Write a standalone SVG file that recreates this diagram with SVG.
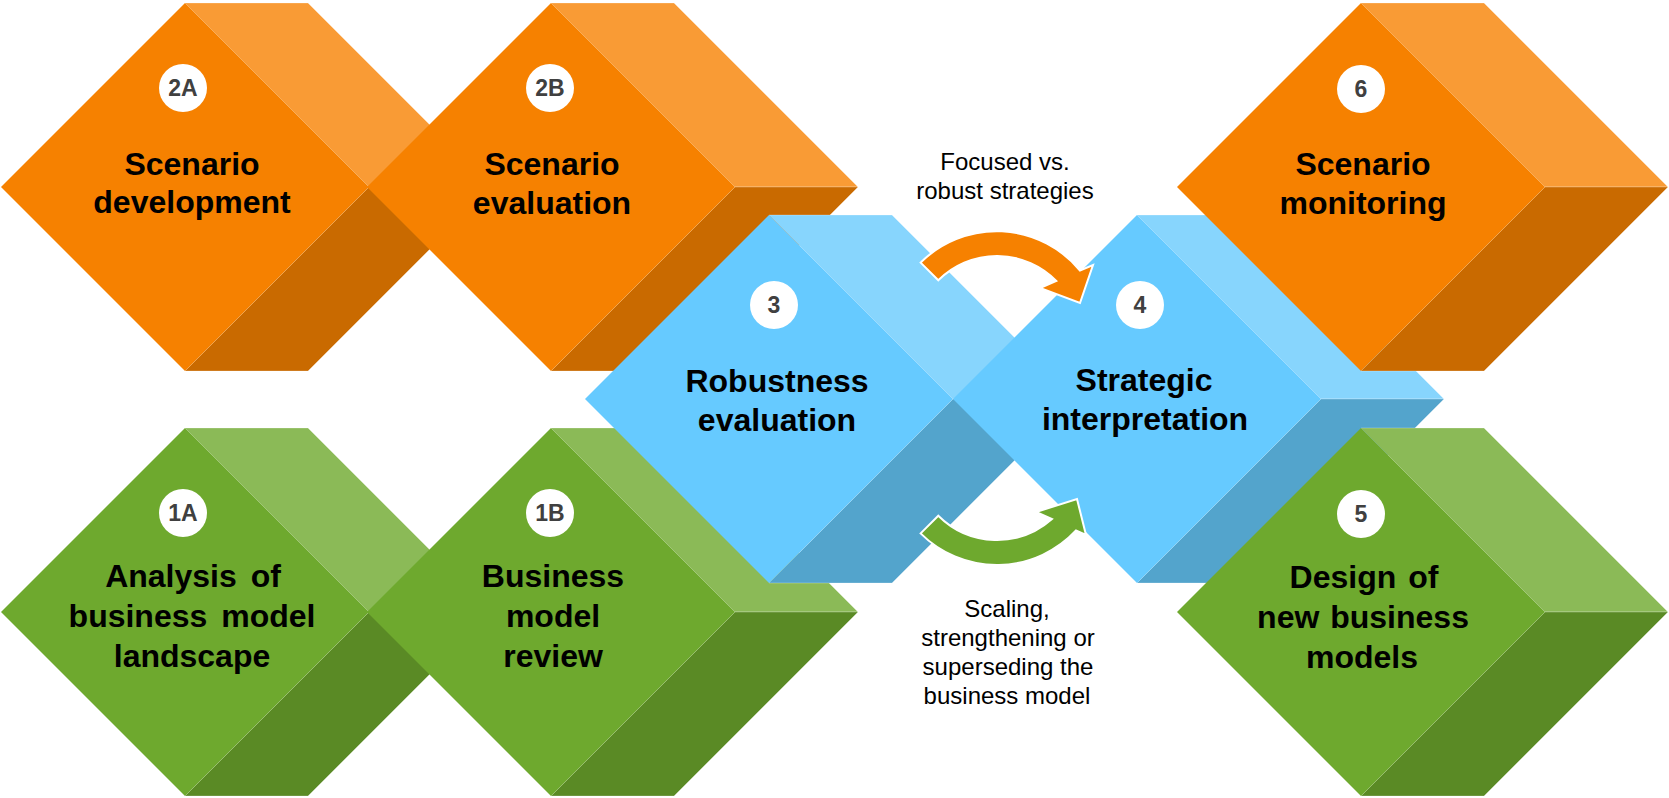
<svg xmlns="http://www.w3.org/2000/svg" width="1669" height="798" viewBox="0 0 1669 798">
<style>
.of{fill:#F68100}.ot{fill:#F99B35}.ob{fill:#C96A00}
.bf{fill:#66CAFF}.bt{fill:#87D5FD}.bb{fill:#53A4CC}
.gf{fill:#6EA92E}.gt{fill:#8BBA57}.gb{fill:#5A8A25}
.edge{stroke:#ffffff;stroke-opacity:0.25;stroke-width:1}
.num{fill:#ffffff}
.nt{font-family:"Liberation Sans",Arial,sans-serif;font-weight:bold;font-size:23px;fill:#404040;text-anchor:middle}
.title{font-family:"Liberation Sans",Arial,sans-serif;font-weight:bold;font-size:32px;fill:#000000;text-anchor:middle}
.lbl{font-family:"Liberation Sans",Arial,sans-serif;font-size:24px;fill:#000000;text-anchor:middle}
.arrow{stroke:#ffffff;stroke-width:2;stroke-linejoin:miter}
</style>
<rect width="1669" height="798" fill="#ffffff"/>

<g id="node-2A">
<polygon class="ot edge" points="185,3 308,3 492,187 369,187"/>
<polygon class="ob edge" points="369,187 492,187 308,371 185,371"/>
<polygon class="of" points="185,3 369,187 185,371 1,187"/>
<circle class="num" cx="183" cy="88" r="24"/>
<text class="nt" x="183" y="96">2A</text>
<text class="title" x="192" y="175">Scenario</text>
<text class="title" x="192" y="213">development</text>
</g>

<g id="node-1A">
<polygon class="gt edge" points="185,428 308,428 492,612 369,612"/>
<polygon class="gb edge" points="369,612 492,612 308,796 185,796"/>
<polygon class="gf" points="185,428 369,612 185,796 1,612"/>
<circle class="num" cx="183" cy="513" r="24"/>
<text class="nt" x="183" y="521">1A</text>
<text class="title" x="193" y="587" word-spacing="5">Analysis of</text>
<text class="title" x="192" y="627" word-spacing="5">business model</text>
<text class="title" x="192" y="667">landscape</text>
</g>

<g id="node-2B">
<polygon class="ot edge" points="551,3 674,3 858,187 735,187"/>
<polygon class="ob edge" points="735,187 858,187 674,371 551,371"/>
<polygon class="of" points="551,3 735,187 551,371 367,187"/>
<circle class="num" cx="550" cy="88" r="24"/>
<text class="nt" x="550" y="96">2B</text>
<text class="title" x="552" y="175">Scenario</text>
<text class="title" x="552" y="214">evaluation</text>
</g>

<g id="node-1B">
<polygon class="gt edge" points="551,428 674,428 858,612 735,612"/>
<polygon class="gb edge" points="735,612 858,612 674,796 551,796"/>
<polygon class="gf" points="551,428 735,612 551,796 367,612"/>
<circle class="num" cx="550" cy="513" r="24"/>
<text class="nt" x="550" y="521">1B</text>
<text class="title" x="553" y="587">Business</text>
<text class="title" x="553" y="627">model</text>
<text class="title" x="553" y="667">review</text>
</g>

<g id="node-3">
<polygon class="bt edge" points="769,215 892,215 1076,399 953,399"/>
<polygon class="bb edge" points="953,399 1076,399 892,583 769,583"/>
<polygon class="bf" points="769,215 953,399 769,583 585,399"/>
<circle class="num" cx="774" cy="305" r="24"/>
<text class="nt" x="774" y="313">3</text>
<text class="title" x="777" y="392">Robustness</text>
<text class="title" x="777" y="431">evaluation</text>
</g>

<g id="node-4">
<polygon class="bt edge" points="1137,215 1260,215 1444,399 1321,399"/>
<polygon class="bb edge" points="1321,399 1444,399 1260,583 1137,583"/>
<polygon class="bf" points="1137,215 1321,399 1137,583 953,399"/>
<circle class="num" cx="1140" cy="305" r="24"/>
<text class="nt" x="1140" y="313">4</text>
<text class="title" x="1144" y="391">Strategic</text>
<text class="title" x="1145" y="430">interpretation</text>
</g>

<g id="node-6">
<polygon class="ot edge" points="1361,3 1484,3 1668,187 1545,187"/>
<polygon class="ob edge" points="1545,187 1668,187 1484,371 1361,371"/>
<polygon class="of" points="1361,3 1545,187 1361,371 1177,187"/>
<circle class="num" cx="1361" cy="89" r="24"/>
<text class="nt" x="1361" y="97">6</text>
<text class="title" x="1363" y="175">Scenario</text>
<text class="title" x="1363" y="214">monitoring</text>
</g>

<g id="node-5">
<polygon class="gt edge" points="1361,428 1484,428 1668,612 1545,612"/>
<polygon class="gb edge" points="1545,612 1668,612 1484,796 1361,796"/>
<polygon class="gf" points="1361,428 1545,612 1361,796 1177,612"/>
<circle class="num" cx="1361" cy="514" r="24"/>
<text class="nt" x="1361" y="522">5</text>
<text class="title" x="1364" y="588" word-spacing="3">Design of</text>
<text class="title" x="1363" y="628" word-spacing="2">new business</text>
<text class="title" x="1362" y="668">models</text>
</g>

<g id="connectors">
<path class="arrow" fill="#F68100" d="M920.6,262.6 A108,108 0 0 1 1080,270.5 L1093,265 L1080,303 L1040,288 L1056.3,280.9 A83,83 0 0 0 938.3,280.3 Z"/>
<path class="arrow" fill="#6EA92E" d="M920.6,533.4 A108,108 0 0 0 1076,530.5 L1086,535 L1077,499 L1036,512 L1052,519 A83,83 0 0 1 938.3,515.7 Z"/>
</g>

<g id="labels">
<text class="lbl" x="1005" y="170">Focused vs.</text>
<text class="lbl" x="1005" y="199">robust strategies</text>
<text class="lbl" x="1007" y="617">Scaling,</text>
<text class="lbl" x="1008" y="646">strengthening or</text>
<text class="lbl" x="1008" y="675">superseding the</text>
<text class="lbl" x="1007" y="704">business model</text>
</g>
</svg>
